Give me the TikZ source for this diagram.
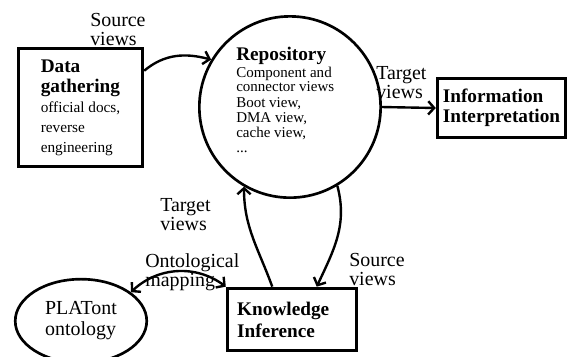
\documentclass[tikz,border=0pt]{standalone}
\usepackage{fontspec}
\setmainfont{Liberation Serif}
\usetikzlibrary{arrows.meta,shapes.geometric,positioning}
\newcommand{\dgsmall}{\fontsize{11.5}{15}\selectfont\mdseries}

\begin{document}
\begin{tikzpicture}[>={Straight Barb[length=4.5pt,width=10pt]},
  blk/.style={draw,line width=2.2pt,inner sep=0pt,align=left,font=\fontsize{14.5}{15}\selectfont\bfseries},
  lbl/.style={inner sep=0pt,align=left,anchor=north west,font=\fontsize{15}{14.5}\selectfont},
  flow/.style={->,line width=1.8pt}]
\useasboundingbox (0,0) rectangle (15.188,9.42);
\draw (2.130,6.575) node[blk,minimum width=93.75pt,minimum height=89.25pt] (dg) {Data\\gathering\\{\dgsmall official docs,}\\{\dgsmall reverse}\\{\dgsmall engineering}};
\draw (7.673,6.588) node[circle,draw,line width=2pt,minimum size=136.5pt,inner sep=0pt] (repo) {};
\draw (6.245,8.176) node[anchor=north west,inner sep=0pt,align=left,font=\fontsize{11.3}{11}\selectfont] (repotxt) {{\fontsize{14.5}{15}\selectfont\bfseries Repository}\\[1.5pt]Component and\\connector views\\[1pt]Boot view,\\DMA view,\\cache view,\\[1pt]...};
\draw (13.270,6.562) node[blk,minimum width=96.75pt,minimum height=45pt] (info) {Information\\Interpretation};
\draw (7.726,0.966) node[blk,text width=82.5pt,inner xsep=7.5pt,minimum height=47.25pt,font=\fontsize{14.5}{16.5}\selectfont\bfseries] (ki) {Knowledge\\Inference};
\draw (2.143,0.926) node[ellipse,draw,line width=2pt,minimum width=99pt,minimum height=63pt,inner sep=0pt,align=left,font=\fontsize{15}{15.75}\selectfont] (plat) {PLATont\\ontology};

\draw (2.381,9.075) node[lbl] (srcA) {Source\\views};
\draw (9.949,7.673) node[lbl] (tgtA) {Target\\views};
\draw (4.234,4.181) node[lbl] (tgtB) {Target\\views};
\draw (3.837,2.725) node[lbl] (ontmap) {Ontological\\mapping};
\draw (9.235,2.725) node[lbl] (srcB) {Source\\views};

\draw[flow] (dg.30) to[out=40,in=165] (repo.149);
\draw[flow] (repo.east) -- (info.west);
\draw[flow] (ki.121) to[out=110,in=-90] (repo.240);
\draw[flow] (repo.301) to[out=-75,in=65] (ki.53);
\draw[<->,line width=1.8pt] (plat.30) to[bend left=40] (ki.north west);
\end{tikzpicture}
\end{document}
